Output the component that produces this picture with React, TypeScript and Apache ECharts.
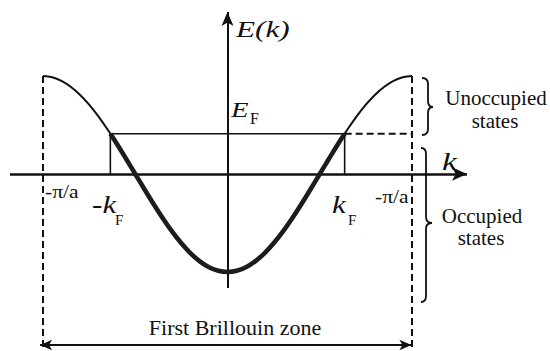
import React, { useEffect, useRef } from 'react';
import * as echarts from 'echarts';

// Wave vector in units of π/a, and band energy E(k) in units of the half band width
const waveVector = [
  -1, -0.95, -0.9, -0.85, -0.8, -0.75, -0.7, -0.65, -0.6, -0.55, -0.5,
  -0.45, -0.4, -0.35, -0.3, -0.25, -0.2, -0.15, -0.1, -0.05, 0,
  0.05, 0.1, 0.15, 0.2, 0.25, 0.3, 0.35, 0.4, 0.45, 0.5,
  0.55, 0.6, 0.65, 0.7, 0.75, 0.8, 0.85, 0.9, 0.95, 1,
];
const bandEnergy = [
  1, 0.988, 0.951, 0.891, 0.809, 0.707, 0.588, 0.454, 0.309, 0.156, 0,
  -0.156, -0.309, -0.454, -0.588, -0.707, -0.809, -0.891, -0.951, -0.988, -1,
  -0.988, -0.951, -0.891, -0.809, -0.707, -0.588, -0.454, -0.309, -0.156, 0,
  0.156, 0.309, 0.454, 0.588, 0.707, 0.809, 0.891, 0.951, 0.988, 1,
];
const fermiWaveVector = 0.635;
const fermiEnergy = 0.41;
const zoneEdge = 1;

const energyAxisTitle = 'E(k)';
const waveAxisTitle = 'k';
const fermiSymbol = 'E';
const fermiWaveSymbol = 'k';
const subscript = 'F';
const edgeTickLabel = '-π/a';
const unoccupiedLabel = ['Unoccupied', 'states'];
const occupiedLabel = ['Occupied', 'states'];
const zoneLabel = 'First Brillouin zone';

// Layout (view extents of the value axes)
const X_MIN = -1.2331;
const X_MAX = 1.748;
const Y_MIN = -1.8061;
const Y_MAX = 1.7755;

const SERIF = 'Liberation Serif';
const INK = '#111';

const bracePath =
  'M422 78 Q428 78 428 84 L428 101 Q428 107 433 107 Q428 107 428 113 L428 129 Q428 135 422 135 ' +
  'M421 148 Q426 148 426 154 L426 217 Q426 223 432 223 Q426 223 426 229 L426 296 Q426 302 421 302';
echarts.graphic.registerShape('brace', echarts.graphic.extendPath(bracePath, {}) as any);

function txt(text: string, x: number, y: number, size: number, opts: any = {}) {
  const family = opts.family ?? SERIF;
  return {
    type: 'text',
    x,
    y,
    scaleX: opts.scaleX ?? 1,
    silent: true,
    style: {
      text,
      x: 0,
      y: 0,
      font: `${opts.italic ? 'italic ' : 'normal '}normal ${size}px ${family}`,
      fill: INK,
      textAlign: opts.align ?? 'left',
      textVerticalAlign: 'middle',
    },
  };
}

function lineSeries(name: string, data: number[][], width: number, type: any, z: number, extra: any = {}) {
  return {
    type: 'line',
    name,
    data,
    symbol: 'none',
    silent: true,
    z,
    lineStyle: { width, color: INK, type },
    ...extra,
  };
}

export default function App() {
  const ref = useRef<HTMLDivElement>(null);

  useEffect(() => {
    if (!ref.current) return;
    const chart = echarts.init(ref.current, undefined, { renderer: 'svg' });

    const band = waveVector.map((k, i) => [k, bandEnergy[i]]);
    const occupied = [
      [-fermiWaveVector, fermiEnergy],
      ...band.filter((p) => Math.abs(p[0]) < fermiWaveVector),
      [fermiWaveVector, fermiEnergy],
    ];

    const kAxisStart = -1.179;
    const kAxisEnd = 1.298;
    const eAxisStart = -1.163;
    const eAxisEnd = 1.653;
    const zoneArrowE = -1.745;
    const dashedBottom = -1.77;

    chart.setOption({
      animation: false,
      grid: { left: 0, right: 0, top: 0, bottom: 0 },
      xAxis: { type: 'value', min: X_MIN, max: X_MAX, show: false },
      yAxis: { type: 'value', min: Y_MIN, max: Y_MAX, show: false },
      series: [
        lineSeries('band', band, 2, 'solid', 5, {
          smooth: 0.4,
          markLine: {
            silent: true,
            symbol: ['none', 'arrow'],
            symbolSize: [10, 15],
            label: { show: false },
            lineStyle: { color: INK, type: 'solid', width: 2 },
            data: [
              [
                { coord: [kAxisStart, 0], symbol: 'none', lineStyle: { width: 2.6, color: INK, type: 'solid' } },
                { coord: [kAxisEnd, 0], symbol: 'arrow' },
              ],
              [
                { coord: [0, eAxisStart], symbol: 'none', lineStyle: { width: 2, color: INK, type: 'solid' } },
                { coord: [0, eAxisEnd], symbol: 'arrow', symbolSize: [9, 14] },
              ],
              [
                { coord: [-1.016, zoneArrowE], symbol: 'arrow', symbolSize: [8, 12], lineStyle: { width: 2, color: INK, type: 'solid' } },
                { coord: [0.997, zoneArrowE], symbol: 'arrow', symbolSize: [8, 12] },
              ],
            ],
          },
        }),
        lineSeries('occupied', occupied, 4.6, 'solid', 6, { smooth: 0.4, lineStyle: { width: 4.6, color: '#1c1c1c' } }),
        lineSeries('leftEdge', [[-zoneEdge, 1], [-zoneEdge, dashedBottom]], 2, [7, 4], 3),
        lineSeries('rightEdge', [[zoneEdge, 1], [zoneEdge, dashedBottom]], 2, [7, 4], 3),
        lineSeries('fermiLevel', [[-fermiWaveVector, fermiEnergy], [fermiWaveVector, fermiEnergy]], 1.6, 'solid', 4),
        lineSeries('fermiEmpty', [[fermiWaveVector, fermiEnergy], [zoneEdge, fermiEnergy]], 2, [7, 4], 4),
        lineSeries('leftFermiK', [[-fermiWaveVector, fermiEnergy], [-fermiWaveVector, 0]], 1.6, 'solid', 4),
        lineSeries('rightFermiK', [[fermiWaveVector, fermiEnergy], [fermiWaveVector, 0]], 1.6, 'solid', 4),
      ],
      graphic: [
        { type: 'brace', x: 0, y: 0, silent: true, style: { fill: 'none', stroke: INK, lineWidth: 1.8 } },
        txt(energyAxisTitle, 236, 29, 24, { italic: true, scaleX: 1.3 }),
        txt(fermiSymbol, 231, 109.5, 22, { italic: true, scaleX: 1.3 }),
        txt(subscript, 250, 118, 16),
        txt(waveAxisTitle, 442, 161, 26, { italic: true, scaleX: 1.3 }),
        txt('-' + fermiWaveSymbol, 92, 204, 26, { italic: true, scaleX: 1.2 }),
        txt(subscript, 115, 220, 15),
        txt(fermiWaveSymbol, 332, 204, 26, { italic: true, scaleX: 1.2 }),
        txt(subscript, 348, 220, 15),
        txt(edgeTickLabel, 45, 192, 18, { scaleX: 1.2 }),
        txt(edgeTickLabel, 375, 197, 18, { scaleX: 1.2 }),
        txt(unoccupiedLabel[0], 496, 98, 21, { align: 'center' }),
        txt(unoccupiedLabel[1], 495, 121, 21, { align: 'center' }),
        txt(occupiedLabel[0], 482, 216, 21, { align: 'center' }),
        txt(occupiedLabel[1], 481, 238, 21, { align: 'center' }),
        txt(zoneLabel, 235, 327.5, 22, { align: 'center' }),
      ],
    });

    return () => chart.dispose();
  }, []);

  return (
    <div
      ref={ref}
      style={{ position: 'absolute', left: 0, top: 0, width: 550, height: 351, background: '#fff' }}
    />
  );
}
